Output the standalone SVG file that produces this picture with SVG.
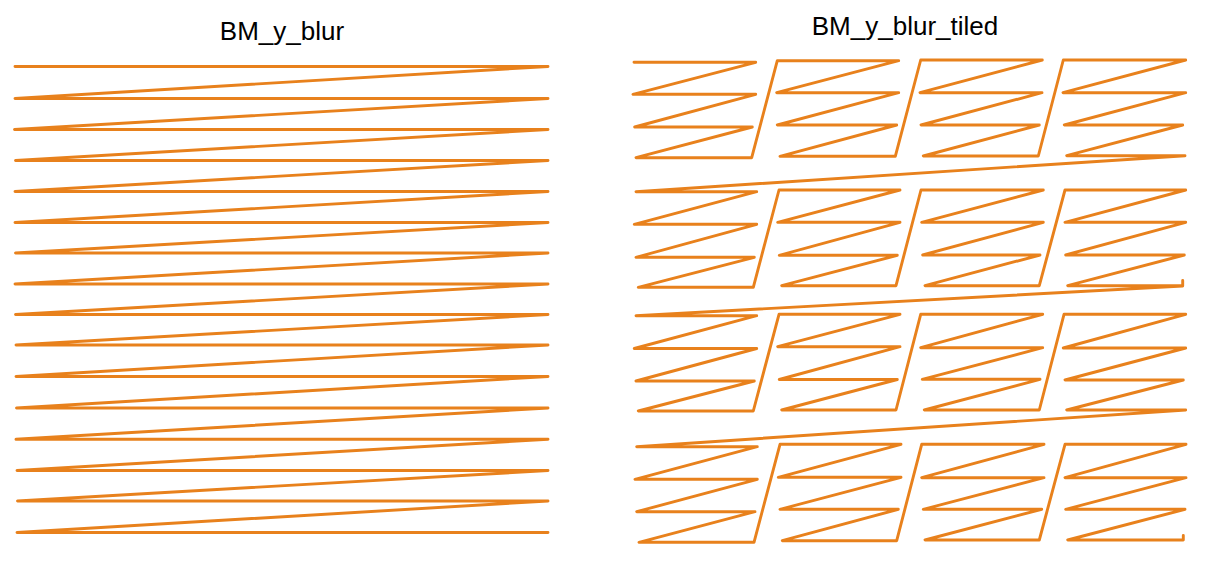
<svg xmlns="http://www.w3.org/2000/svg" width="1206" height="565" viewBox="0 0 1206 565">
<style>
.title{font-family:"Liberation Sans",Arial,sans-serif;font-size:26px;fill:#000;text-anchor:middle}
.trace{fill:none;stroke:#e8811c;stroke-width:2.9;stroke-linejoin:round;stroke-linecap:round}
</style>
<rect width="1206" height="565" fill="#fff"/>
<g id="plot-left">
<text class="title" x="282" y="40">BM_y_blur</text>
<path class="trace" d="M15,66.5 L548,66.5 L15,98.5 L548,98.5 L14.5,129.5 L548,129.5 L15.5,160.5 L548,160.5 L15,191.5 L548,191.5 L15,222.5 L548,222.5 L15.5,253 L548,253 L15,284 L548,284 L15.5,314.5 L548,314.5 L16,345 L548,345 L16,376.5 L548,376.5 L16.5,408 L548,408 L16,439.3 L548,439.3 L17,470.5 L548,470.5 L17.5,501 L548,501 L17,532.5 L548,532.5"/>
</g>
<g id="plot-right">
<text class="title" x="905" y="35">BM_y_blur_tiled</text>
<path class="trace" d="M634,62.3 L755.7,62.3 L633,94.3 L755.7,94.3 L634.7,127 L752.3,127 L636,157.7 L751.7,157.7
L777.3,60.7 L898.7,60.7 L776.7,92.7 L898.7,92.7 L777.3,125 L896.7,125 L780,156.3 L895.3,156.3
L920.7,60 L1042.3,60 L920,92.7 L1042,92.7 L921,125 L1039.3,125 L923.3,156 L1038.3,156
L1063.3,60 L1185.7,60 L1063,92.7 L1185.7,92.7 L1064.3,125 L1182.7,125 L1066.7,155.7 L1185,155.7
L636,191.7 L756.7,191.7 L634.3,224.3 L756.7,224.3 L636,257.3 L754.3,257.3 L638.3,287.3 L753.3,287.3
L779,190 L900,190 L777.7,222.3 L900,222.3 L779.3,255.3 L897.3,255.3 L781.7,285.7 L896,285.7
L921,190 L1043.3,190 L921.7,222.3 L1043.3,222.3 L922.7,255 L1040,255 L925,285.7 L1039.3,285.7
L1065,190 L1185.7,190 L1065,222.3 L1185.7,222.3 L1065.7,255 L1184.3,255 L1067.7,285.7 L1182.7,285.7 L1182.7,280.5 L1182.7,286
L636,315.7 L756.7,315.7 L634.3,348.5 L756.7,348.5 L636,381 L754.3,381 L638.3,411 L753.3,411
L779,314.3 L900,314.3 L777.7,346.7 L900,346.7 L779.3,379.5 L897.3,379.5 L781.7,410 L896,410
L920.7,314.3 L1042.7,314.3 L920.7,347.7 L1042.7,347.7 L922.3,379.3 L1040,379.3 L924.3,410 L1039.3,410
L1064,314.3 L1185.7,314.3 L1063.3,348 L1185.7,348 L1065,380 L1183.3,380 L1066.7,410 L1185.7,410
L636.7,446.7 L757.3,446.7 L635,479.3 L757.3,479.3 L636.7,511.7 L755,511.7 L639,542.3 L754,542.3
L780,444.3 L901,444.3 L778.3,477.3 L901,477.3 L780,509.3 L898.3,509.3 L782.3,540.7 L896.7,540.7
L921.7,444.3 L1044,444.3 L921.7,477.7 L1044,477.7 L923.3,509.3 L1041.7,509.3 L925,540 L1039.3,540
L1065,444.3 L1186,444.3 L1065,477.7 L1186,477.7 L1065.7,509.3 L1185,509.3 L1067.7,540 L1183.3,540 L1183.3,535.5"/>
</g>
</svg>
